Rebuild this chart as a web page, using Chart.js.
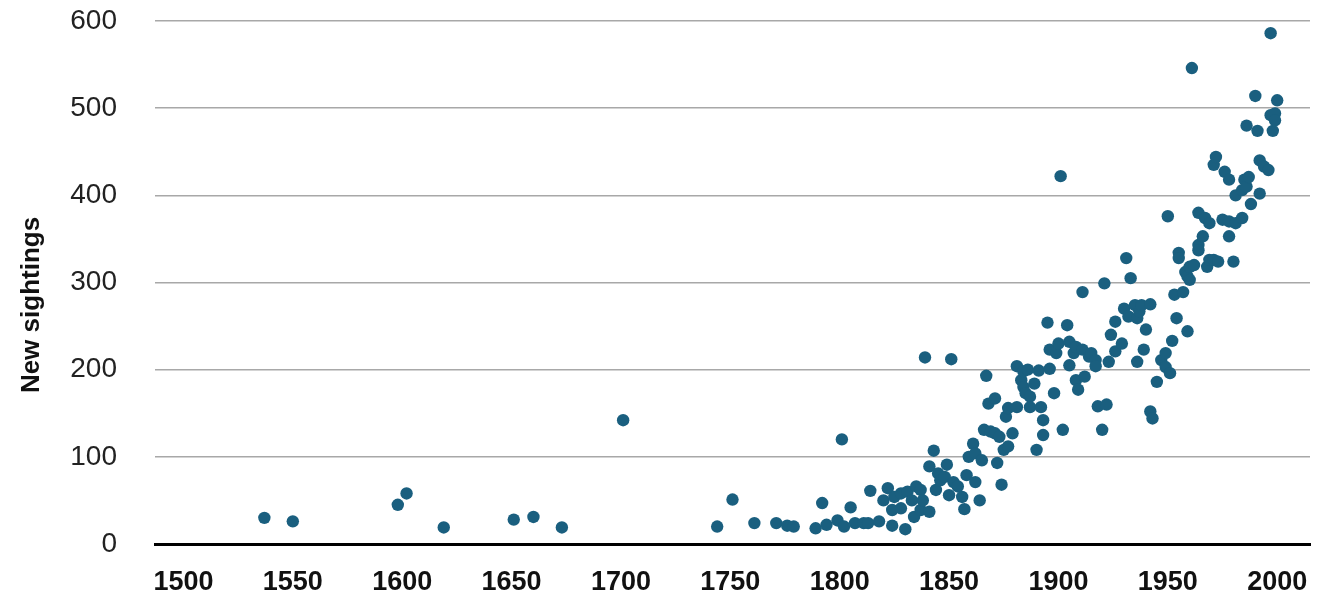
<!DOCTYPE html>
<html>
<head>
<meta charset="utf-8">
<script src="https://cdn.jsdelivr.net/npm/chart.js@4"></script>
<style>
  html, body { margin: 0; padding: 0; background: #ffffff; }
  #wrap { width: 1318px; height: 600px; position: relative; }
</style>
</head>
<body>
<div id="wrap"><canvas id="c" width="1318" height="600"></canvas></div>
<script>
// ---- data ----
const years = [
  1537,1550,1598,1602,1619,1651,1660,1673,1701,1744,1751,1761,1771,1776,1779,1789,1792,1794,1799,1801,
  1802,1805,1807,1811,1813,1814,1818,1820,1822,1824,1824,1825,1828,1828,1830,1831,1833,1834,1835,1837,
  1837,1838,1839,1841,1841,1843,1844,1845,1846,1848,1849,1850,1851,1852,1854,1856,1857,1858,1859,1861,
  1862,1862,1864,1865,1866,1867,1868,1869,1871,1871,1872,1873,1874,1875,1876,1877,1877,1879,1881,1881,
  1883,1884,1884,1885,1886,1887,1887,1889,1890,1891,1892,1893,1893,1895,1896,1896,1898,1899,1900,1901,
  1902,1904,1905,1905,1907,1908,1908,1909,1911,1911,1912,1914,1915,1917,1917,1918,1920,1921,1922,1923,
  1924,1926,1926,1929,1930,1931,1932,1933,1935,1936,1936,1937,1938,1939,1940,1942,1942,1943,1945,1947,
  1949,1949,1950,1951,1952,1953,1954,1955,1955,1957,1958,1959,1959,1960,1960,1961,1962,1964,1964,1964,
  1966,1967,1968,1969,1969,1971,1971,1972,1973,1975,1976,1978,1978,1978,1980,1981,1981,1984,1984,1985,
  1986,1986,1987,1988,1990,1991,1992,1992,1994,1996,1997,1997,1998,1999,1999,2000
];
const sightings = [
  30,26,45,58,19,28,31,19,142,20,51,24,24,21,20,18,47,22,27,120,
  20,42,24,24,24,61,26,50,64,21,39,54,58,41,17,60,50,31,66,62,
  39,50,214,37,89,107,62,81,73,77,91,56,212,71,66,54,40,79,100,115,
  71,104,50,96,131,193,161,129,167,127,93,123,68,108,146,156,112,127,157,204,
  188,198,180,173,200,169,157,184,108,199,157,142,125,254,201,223,173,219,230,422,
  131,251,232,205,219,226,188,177,223,289,192,215,219,211,204,158,131,299,160,209,
  240,255,221,230,270,328,261,305,274,259,209,267,274,223,246,275,152,144,186,211,
  219,203,376,196,233,286,259,334,328,289,312,244,307,303,318,546,320,380,343,337,
  353,374,318,368,326,435,326,444,324,372,427,418,370,353,324,400,368,406,374,418,
  480,410,421,390,514,474,440,402,433,429,586,492,474,494,486,509
];
const xTickLabels = [1500,1550,1600,1650,1700,1750,1800,1850,1900,1950,2000];
const yTickLabels = [0,100,200,300,400,500,600];
const yTitle = 'New sightings';

const points = years.map((y, i) => ({ x: y, y: sightings[i] }));

const yTitlePlugin = {
  id: 'yTitle',
  afterDraw(chart) {
    const ctx = chart.ctx;
    ctx.save();
    ctx.translate(32, 305);
    ctx.rotate(-Math.PI / 2);
    ctx.font = 'bold 26px "Liberation Sans", Arial, sans-serif';
    ctx.fillStyle = '#111111';
    ctx.textAlign = 'center';
    ctx.textBaseline = 'middle';
    ctx.fillText(yTitle, 0, 0);
    ctx.restore();
  }
};

new Chart(document.getElementById('c'), {
  type: 'scatter',
  data: {
    datasets: [{
      data: points,
      backgroundColor: '#1a5f7f',
      borderWidth: 0,
      pointRadius: 6.2,
      pointHoverRadius: 6.2
    }]
  },
  options: {
    responsive: false,
    animation: false,
    events: [],
    layout: { padding: { top: 21, right: 8, left: 0, bottom: 0 } },
    plugins: { legend: { display: false }, tooltip: { enabled: false } },
    scales: {
      x: {
        type: 'linear',
        min: 1487,
        max: 2015,
        afterBuildTicks(scale) { scale.ticks = xTickLabels.map(v => ({ value: v })); },
        afterFit(scale) { scale.height = 56; scale.paddingLeft = 0; scale.paddingRight = 0; },
        grid: { display: false, drawTicks: false },
        border: { display: true, color: '#000000', width: 3 },
        ticks: {
          padding: 22,
          color: '#111111',
          maxRotation: 0,
          autoSkip: false,
          font: { family: '"Liberation Sans", Arial, sans-serif', size: 27, weight: 'bold' },
          callback: v => String(v)
        }
      },
      y: {
        type: 'linear',
        min: 0,
        max: 600,
        afterBuildTicks(scale) { scale.ticks = yTickLabels.map(v => ({ value: v })); },
        afterFit(scale) { scale.width = 155; scale.paddingTop = 0; scale.paddingBottom = 0; },
        grid: { color: '#a8a8a8', lineWidth: 1.5, drawTicks: false },
        border: { display: false },
        ticks: {
          padding: 38,
          color: '#222222',
          autoSkip: false,
          font: { family: '"Liberation Sans", Arial, sans-serif', size: 28 },
          callback: v => String(v)
        }
      }
    }
  },
  plugins: [yTitlePlugin]
});
</script>
</body>
</html>
